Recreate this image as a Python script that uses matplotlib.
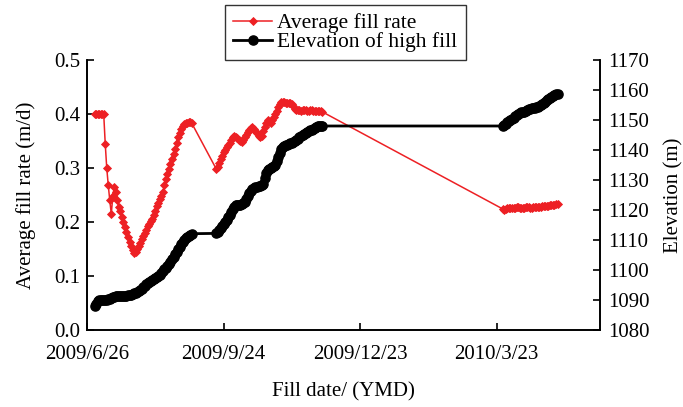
import numpy as np
import pandas as pd
import matplotlib
matplotlib.use("Agg")
import matplotlib.pyplot as plt

plt.rcParams['font.family'] = ['Liberation Serif', 'DejaVu Serif']
plt.rcParams['font.size'] = 15

# Daily record, three filling periods (start date, end date)
periods = [("2009-07-01", "2009-09-03"),
           ("2009-09-19", "2009-11-28"),
           ("2010-03-27", "2010-05-02")]

# Average fill rate (m/d)
rate_p1 = [0.400, 0.400, 0.400, 0.400, 0.400, 0.400, 0.400,
           0.345, 0.300, 0.268, 0.240, 0.215, 0.248, 0.265, 0.255, 0.240, 0.228,
           0.220, 0.210, 0.200, 0.190, 0.181, 0.172, 0.163, 0.155, 0.148, 0.142,
           0.145, 0.150, 0.156, 0.162, 0.168, 0.174, 0.180, 0.186, 0.192, 0.197,
           0.201, 0.206, 0.213, 0.221, 0.229, 0.236, 0.242, 0.248, 0.256, 0.268,
           0.279, 0.288, 0.298, 0.307, 0.316, 0.325, 0.336, 0.347, 0.357, 0.364,
           0.372, 0.378, 0.381, 0.383, 0.384, 0.385, 0.386, 0.383]
rate_p2 = [0.299, 0.302, 0.309, 0.316, 0.323, 0.329, 0.334, 0.339, 0.343, 0.347,
           0.352, 0.357, 0.360, 0.358, 0.355, 0.352, 0.350, 0.349, 0.352, 0.357,
           0.362, 0.367, 0.371, 0.374, 0.376, 0.372, 0.368, 0.364, 0.360, 0.358,
           0.360, 0.368, 0.376, 0.383, 0.389, 0.386, 0.383, 0.388, 0.394, 0.400,
           0.406, 0.413, 0.419, 0.423, 0.423, 0.422, 0.421, 0.421, 0.420, 0.420,
           0.418, 0.414, 0.410, 0.408, 0.407, 0.407, 0.406, 0.407, 0.408, 0.407,
           0.406, 0.406, 0.407, 0.407, 0.406, 0.405, 0.406, 0.406, 0.405, 0.405,
           0.404]
rate_p3 = [0.224, 0.223, 0.224, 0.225, 0.226, 0.226, 0.225, 0.225, 0.226, 0.227,
           0.227, 0.226, 0.225, 0.225, 0.226, 0.227, 0.228, 0.227, 0.226, 0.226,
           0.227, 0.228, 0.228, 0.227, 0.227, 0.228, 0.229, 0.229, 0.229, 0.230,
           0.230, 0.231, 0.232, 0.232, 0.232, 0.233, 0.233]

# Elevation of high fill (m)
elev_p1 = [1088.0, 1088.8, 1089.5, 1090.0, 1090.1, 1090.1, 1090.1, 1090.1, 1090.1,
           1090.2, 1090.3, 1090.7, 1091.0, 1091.1, 1091.2, 1091.2, 1091.2, 1091.2,
           1091.2, 1091.2, 1091.3, 1091.4, 1091.5, 1091.6, 1091.8, 1092.0, 1092.2,
           1092.4, 1092.6, 1092.9, 1093.3, 1093.8, 1094.3, 1094.8, 1095.3, 1095.7,
           1096.0, 1096.3, 1096.6, 1097.0, 1097.4, 1097.8, 1098.1, 1098.4, 1099.0,
           1099.6, 1100.2, 1100.8, 1101.4, 1102.0, 1102.7, 1103.5, 1104.3, 1105.2,
           1106.1, 1107.0, 1107.8, 1108.6, 1109.3, 1109.9, 1110.5, 1111.0, 1111.4,
           1111.8, 1112.1]
elev_p2 = [1112.2, 1112.8, 1113.4, 1114.0, 1114.6, 1115.3, 1116.0, 1116.7, 1117.5,
           1118.4, 1119.3, 1120.2, 1121.0, 1121.5, 1121.7, 1121.7, 1121.8, 1121.9,
           1122.2, 1122.8, 1123.7, 1124.6, 1125.5, 1126.3, 1127.0, 1127.4, 1127.6,
           1127.8, 1128.0, 1128.1, 1128.3, 1128.8, 1130.5, 1132.2, 1133.2, 1133.7,
           1134.0, 1134.2, 1134.5, 1135.0, 1136.2, 1137.6, 1139.0, 1140.2, 1141.0,
           1141.4, 1141.6, 1141.8, 1142.0, 1142.2, 1142.4, 1142.7, 1143.0, 1143.4,
           1143.8, 1144.2, 1144.6, 1145.0, 1145.3, 1145.6, 1145.9, 1146.2, 1146.5,
           1146.8, 1147.1, 1147.4, 1147.7, 1147.9, 1148.0, 1148.0, 1148.0]
elev_p3 = [1148.0, 1148.3, 1148.8, 1149.2, 1149.6, 1150.0, 1150.4, 1150.8, 1151.2,
           1151.6, 1152.0, 1152.3, 1152.5, 1152.6, 1152.7, 1152.9, 1153.2, 1153.5,
           1153.8, 1154.0, 1154.1, 1154.1, 1154.2, 1154.3, 1154.5, 1154.9, 1155.3,
           1155.7, 1156.1, 1156.5, 1156.9, 1157.3, 1157.6, 1157.9, 1158.2, 1158.5,
           1158.8]

tick_dates = ["2009-06-26", "2009-09-24", "2009-12-23", "2010-03-23"]
tick_labels = ["2009/6/26", "2009/9/24", "2009/12/23", "2010/3/23"]
x_start, x_end = "2009-06-26", "2010-05-30"

dates = pd.DatetimeIndex(np.concatenate(
    [pd.date_range(a, b, freq="D").values for a, b in periods]))
rate = np.array(rate_p1 + rate_p2 + rate_p3)
elev = np.array(elev_p1 + elev_p2 + elev_p3)

RED = "#ED2024"

fig = plt.figure(figsize=(6.83, 4.07), dpi=100)
ax = fig.add_axes([0.1274, 0.1892, 0.7511, 0.6634])
ax2 = ax.twinx()

l1, = ax.plot(dates, rate, color=RED, lw=1.1, marker="D", ms=4.4,
              mec=RED, mfc=RED, mew=0.6, label="Average fill rate")
l2, = ax2.plot(dates, elev, color="black", lw=2.0, marker="o", ms=6.6,
               mec="black", mfc="black", label="Elevation of high fill")

ax.set_xlim(pd.Timestamp(x_start), pd.Timestamp(x_end))
ax.set_xticks(pd.to_datetime(tick_dates))
ax.set_xticklabels(tick_labels)
ax.set_ylim(0, 0.5)
ax.set_yticks(np.arange(0, 0.51, 0.1))
ax.yaxis.set_major_formatter(plt.FormatStrFormatter("%.1f"))
ax2.set_ylim(1080, 1170)
ax2.set_yticks(np.arange(1080, 1171, 10))

for a in (ax, ax2):
    a.spines["top"].set_visible(False)
    for s in a.spines.values():
        s.set_linewidth(1.2)
ax.tick_params(axis="both", direction="in", length=5, width=1.2, pad=5, labelsize=15)
ax.tick_params(axis="x", pad=11)
ax2.tick_params(axis="y", direction="in", length=5, width=1.2, pad=6, labelsize=15)

ax.set_ylabel("Average fill rate (m/d)", fontsize=15, labelpad=13)
ax2.set_ylabel("Elevation (m)", fontsize=15, labelpad=10.5)
ax.set_xlabel("Fill date/ (YMD)", fontsize=15, labelpad=13)

leg = fig.legend(handles=[l1, l2], loc="upper left",
                 bbox_to_anchor=(225 / 683, 1 - 5 / 407), numpoints=1,
                 handlelength=1.8, handletextpad=0.25, labelspacing=-0.05,
                 borderpad=0.38, borderaxespad=0, fancybox=False, fontsize=15.5)
leg.get_frame().set_edgecolor("black")
leg.get_frame().set_linewidth(1.0)

fig.savefig("out.png", dpi=100)
